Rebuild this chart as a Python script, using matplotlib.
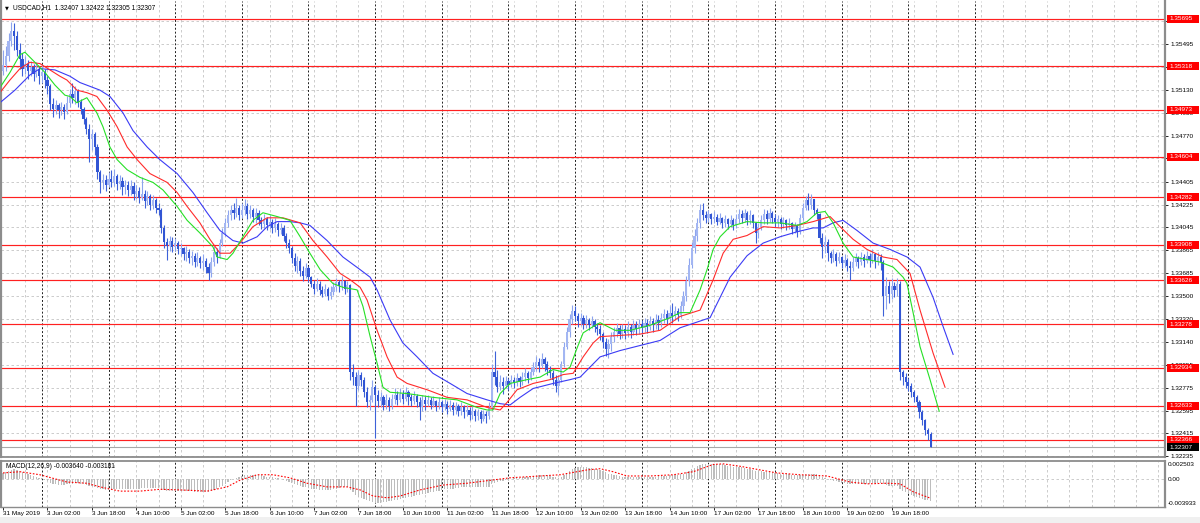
import matplotlib
matplotlib.use("Agg")
import matplotlib.pyplot as plt
import matplotlib.transforms as mtrans
from matplotlib.patches import Rectangle
import numpy as np

plt.rcParams['font.family'] = ['Liberation Sans', 'DejaVu Sans']

# ---------------- data (USDCAD H1, 31 May 10:00 -> 20 Jun 08:00) ----------------
first_open = 1.3528
closes = [
    1.3533, 1.3540, 1.3552, 1.3560, 1.3556, 1.3545, 1.3538, 1.3530, 1.3534, 1.3528,
    1.3531, 1.3526, 1.3530, 1.3524, 1.3527, 1.3521, 1.3516, 1.3502, 1.3498, 1.3501,
    1.3497, 1.3500, 1.3496, 1.3503, 1.3510, 1.3507, 1.3512, 1.3504, 1.3498, 1.3490,
    1.3482, 1.3474, 1.3478, 1.3468, 1.3448, 1.3440, 1.3442, 1.3438, 1.3443, 1.3440,
    1.3445, 1.3439, 1.3441, 1.3436, 1.3438, 1.3434, 1.3437, 1.3431, 1.3433, 1.3428,
    1.3431, 1.3425, 1.3429, 1.3422, 1.3426, 1.3420, 1.3418, 1.3404, 1.3393, 1.3390,
    1.3394, 1.3389, 1.3392, 1.3387, 1.3388, 1.3383, 1.3385, 1.3380, 1.3382, 1.3377,
    1.3380, 1.3376, 1.3378, 1.3373, 1.3368, 1.3377, 1.3385, 1.3381, 1.3392, 1.3400,
    1.3408, 1.3414, 1.3418, 1.3416, 1.3420, 1.3414, 1.3418, 1.3421, 1.3415, 1.3418,
    1.3413, 1.3416, 1.3410, 1.3407, 1.3411, 1.3406, 1.3409, 1.3404, 1.3407, 1.3402,
    1.3404, 1.3398, 1.3392, 1.3388, 1.3380, 1.3374, 1.3378, 1.3370, 1.3366, 1.3372,
    1.3365, 1.3360, 1.3356, 1.3360, 1.3355, 1.3352, 1.3356, 1.3350, 1.3353, 1.3357,
    1.3361, 1.3358, 1.3362, 1.3356, 1.3359, 1.3290, 1.3286, 1.3279, 1.3288, 1.3284,
    1.3274, 1.3266, 1.3268, 1.3278, 1.3272, 1.3267, 1.3270, 1.3264, 1.3268, 1.3263,
    1.3269, 1.3272, 1.3268, 1.3273, 1.3269, 1.3274, 1.3270, 1.3267, 1.3271, 1.3266,
    1.3262, 1.3268, 1.3265, 1.3268, 1.3264, 1.3267, 1.3263, 1.3266, 1.3262, 1.3265,
    1.3261, 1.3264, 1.3260, 1.3263, 1.3259, 1.3262, 1.3258, 1.3260, 1.3256, 1.3259,
    1.3255, 1.3258, 1.3253, 1.3257, 1.3255, 1.3262, 1.3290, 1.3286, 1.3278, 1.3282,
    1.3279, 1.3283, 1.3280, 1.3284, 1.3281, 1.3285, 1.3282, 1.3286, 1.3289, 1.3285,
    1.3290, 1.3294, 1.3298, 1.3295, 1.3300, 1.3296, 1.3292, 1.3289, 1.3284, 1.3279,
    1.3284, 1.3296, 1.3310, 1.3322, 1.3332, 1.3338, 1.3334, 1.3330, 1.3333, 1.3328,
    1.3331, 1.3327, 1.3330, 1.3326, 1.3324, 1.3320, 1.3314, 1.3308, 1.3312, 1.3318,
    1.3322, 1.3325, 1.3320, 1.3324, 1.3321, 1.3326, 1.3322, 1.3327, 1.3324, 1.3328,
    1.3325, 1.3329, 1.3326, 1.3330, 1.3327, 1.3331, 1.3329, 1.3333, 1.3336, 1.3332,
    1.3337, 1.3334, 1.3338, 1.3335, 1.3342, 1.3350, 1.3362, 1.3375, 1.3388, 1.3398,
    1.3408, 1.3418, 1.3414, 1.3412, 1.3415, 1.3411, 1.3413, 1.3409, 1.3412, 1.3408,
    1.3411, 1.3407, 1.3410, 1.3406, 1.3411, 1.3415, 1.3412, 1.3416, 1.3410, 1.3414,
    1.3408, 1.3400, 1.3405, 1.3410, 1.3415, 1.3411, 1.3416, 1.3412, 1.3409, 1.3411,
    1.3407, 1.3410, 1.3406, 1.3408, 1.3403, 1.3406, 1.3401, 1.3412, 1.3420, 1.3426,
    1.3422, 1.3427, 1.3418, 1.3415, 1.3396, 1.3389, 1.3393, 1.3384, 1.3380, 1.3383,
    1.3378, 1.3381, 1.3376, 1.3379, 1.3374, 1.3372, 1.3377, 1.3380, 1.3377, 1.3381,
    1.3378, 1.3382, 1.3379, 1.3383, 1.3378, 1.3381, 1.3377, 1.3350, 1.3358, 1.3352,
    1.3358, 1.3355, 1.3360, 1.3290, 1.3286, 1.3282, 1.3279, 1.3274, 1.3270, 1.3266,
    1.3258, 1.3252, 1.3244, 1.32407, 1.32307,
]
highs = [
    1.3545, 1.3548, 1.3558, 1.3567, 1.3566, 1.3560, 1.3550, 1.3542, 1.3540, 1.3537,
    1.3536, 1.3534, 1.3535, 1.3532, 1.3533, 1.3530, 1.3524, 1.3518, 1.3507, 1.3505,
    1.3503, 1.3504, 1.3502, 1.3508, 1.3514, 1.3519, 1.3516, 1.3514, 1.3506, 1.3500,
    1.3492, 1.3486, 1.3482, 1.3480, 1.3470, 1.3450, 1.3447, 1.3446, 1.3448, 1.3450,
    1.3451, 1.3447, 1.3446, 1.3444, 1.3442, 1.3441, 1.3442, 1.3440, 1.3438, 1.3436,
    1.3444, 1.3434, 1.3433, 1.3431, 1.3430, 1.3428, 1.3424, 1.3420, 1.3406, 1.3396,
    1.3398, 1.3397, 1.3396, 1.3394, 1.3392, 1.3389, 1.3390, 1.3387, 1.3386, 1.3384,
    1.3385, 1.3382, 1.3383, 1.3380, 1.3376, 1.3381, 1.3390, 1.3388, 1.3395, 1.3404,
    1.3412, 1.3418, 1.3422, 1.3424, 1.3428, 1.3422, 1.3424, 1.3427, 1.3424, 1.3422,
    1.3420, 1.3420, 1.3418, 1.3413, 1.3415, 1.3413, 1.3414, 1.3411, 1.3412, 1.3409,
    1.3408, 1.3406, 1.3400, 1.3395, 1.3390, 1.3384, 1.3382, 1.3380, 1.3374, 1.3376,
    1.3374, 1.3366, 1.3363, 1.3364, 1.3362, 1.3358, 1.3360, 1.3357, 1.3358, 1.3361,
    1.3364, 1.3363, 1.3366, 1.3363, 1.3362, 1.3360, 1.3296, 1.3290, 1.3292, 1.3290,
    1.3286, 1.3278, 1.3272, 1.3284, 1.3280, 1.3276, 1.3274, 1.3272, 1.3273, 1.3270,
    1.3273, 1.3277, 1.3275, 1.3277, 1.3276, 1.3278, 1.3276, 1.3273, 1.3275, 1.3273,
    1.3270, 1.3272, 1.3271, 1.3272, 1.3270, 1.3271, 1.3268, 1.3270, 1.3268, 1.3269,
    1.3267, 1.3268, 1.3266, 1.3266, 1.3265, 1.3266, 1.3264, 1.3264, 1.3262, 1.3263,
    1.3261, 1.3261, 1.3260, 1.3260, 1.3259, 1.3266, 1.3296, 1.3307, 1.3292, 1.3288,
    1.3286, 1.3287, 1.3285, 1.3288, 1.3286, 1.3289, 1.3287, 1.3290, 1.3293, 1.3291,
    1.3294, 1.3298, 1.3303, 1.3301, 1.3305, 1.3302, 1.3299, 1.3295, 1.3292, 1.3288,
    1.3288, 1.3299, 1.3314, 1.3326, 1.3336, 1.3343, 1.3342, 1.3337, 1.3337, 1.3335,
    1.3335, 1.3333, 1.3334, 1.3332, 1.3329, 1.3327, 1.3322, 1.3317, 1.3316, 1.3322,
    1.3326, 1.3329, 1.3327, 1.3328, 1.3327, 1.3330, 1.3328, 1.3331, 1.3330, 1.3332,
    1.3331, 1.3333, 1.3332, 1.3334, 1.3333, 1.3336, 1.3335, 1.3337, 1.3340, 1.3339,
    1.3342, 1.3345, 1.3342, 1.3341, 1.3346, 1.3354, 1.3366, 1.3380, 1.3393, 1.3403,
    1.3412, 1.3423, 1.3424, 1.3417, 1.3418, 1.3416, 1.3417, 1.3415, 1.3416, 1.3413,
    1.3414, 1.3412, 1.3414, 1.3412, 1.3415, 1.3419, 1.3418, 1.3419, 1.3417, 1.3418,
    1.3415, 1.3409, 1.3408, 1.3414, 1.3419, 1.3418, 1.3420, 1.3417, 1.3415, 1.3414,
    1.3413, 1.3413, 1.3411, 1.3412, 1.3409, 1.3409, 1.3407, 1.3415, 1.3424, 1.3429,
    1.3432, 1.3431, 1.3427, 1.3420, 1.3416, 1.3400, 1.3398, 1.3395, 1.3386, 1.3387,
    1.3385, 1.3385, 1.3382, 1.3383, 1.3380, 1.3378, 1.3381, 1.3384, 1.3382, 1.3385,
    1.3383, 1.3386, 1.3384, 1.3387, 1.3384, 1.3385, 1.3383, 1.3379, 1.3365, 1.3362,
    1.3364, 1.3361, 1.3364, 1.3362, 1.3292, 1.3289, 1.3285, 1.3281, 1.3276, 1.3272,
    1.3268, 1.3260, 1.3253, 1.3246, 1.32422,
]
lows = [
    1.3525, 1.3528, 1.3536, 1.3548, 1.3545, 1.3540, 1.3530, 1.3524, 1.3526, 1.3522,
    1.3524, 1.3520, 1.3523, 1.3518, 1.3519, 1.3515, 1.3510, 1.3497, 1.3492, 1.3494,
    1.3491, 1.3493, 1.3490, 1.3494, 1.3500, 1.3503, 1.3502, 1.3500, 1.3494, 1.3486,
    1.3478, 1.3456, 1.3466, 1.3462, 1.3443, 1.3432, 1.3435, 1.3433, 1.3436, 1.3436,
    1.3437, 1.3434, 1.3435, 1.3430, 1.3431, 1.3429, 1.3430, 1.3426, 1.3427, 1.3424,
    1.3426, 1.3420, 1.3422, 1.3418, 1.3419, 1.3416, 1.3414, 1.3400, 1.3388, 1.3379,
    1.3386, 1.3385, 1.3386, 1.3383, 1.3382, 1.3379, 1.3378, 1.3376, 1.3375, 1.3373,
    1.3374, 1.3372, 1.3371, 1.3368, 1.3363, 1.3365, 1.3374, 1.3376, 1.3380, 1.3390,
    1.3398, 1.3405, 1.3410, 1.3411, 1.3413, 1.3410, 1.3412, 1.3414, 1.3411, 1.3412,
    1.3409, 1.3408, 1.3406, 1.3403, 1.3404, 1.3402, 1.3403, 1.3400, 1.3401, 1.3398,
    1.3399, 1.3394, 1.3388, 1.3384, 1.3376, 1.3370, 1.3368, 1.3366, 1.3362, 1.3364,
    1.3361, 1.3357, 1.3352, 1.3354, 1.3351, 1.3349, 1.3350, 1.3347, 1.3348, 1.3351,
    1.3354, 1.3353, 1.3355, 1.3352, 1.3353, 1.3284, 1.3280, 1.3263, 1.3276, 1.3279,
    1.3270, 1.3262, 1.3260, 1.3266, 1.3238, 1.3262, 1.3262, 1.3260, 1.3261, 1.3259,
    1.3261, 1.3265, 1.3264, 1.3266, 1.3265, 1.3267, 1.3264, 1.3263, 1.3265, 1.3262,
    1.3252, 1.3259, 1.3260, 1.3263, 1.3261, 1.3262, 1.3259, 1.3261, 1.3258, 1.3260,
    1.3257, 1.3259, 1.3256, 1.3257, 1.3255, 1.3256, 1.3254, 1.3255, 1.3252, 1.3253,
    1.3251, 1.3252, 1.3250, 1.3251, 1.3250, 1.3253, 1.3260, 1.3280, 1.3274, 1.3276,
    1.3273, 1.3277, 1.3276, 1.3278, 1.3277, 1.3279, 1.3278, 1.3280, 1.3283, 1.3281,
    1.3284, 1.3288, 1.3291, 1.3290, 1.3293, 1.3291, 1.3288, 1.3285, 1.3280, 1.3274,
    1.3272, 1.3282, 1.3294, 1.3308, 1.3318, 1.3328, 1.3330, 1.3326, 1.3327, 1.3324,
    1.3325, 1.3323, 1.3325, 1.3322, 1.3319, 1.3315, 1.3309, 1.3303, 1.3301, 1.3307,
    1.3314, 1.3318, 1.3316, 1.3317, 1.3316, 1.3318, 1.3317, 1.3319, 1.3319, 1.3320,
    1.3320, 1.3322, 1.3321, 1.3323, 1.3322, 1.3324, 1.3323, 1.3326, 1.3329, 1.3328,
    1.3330, 1.3329, 1.3331, 1.3330, 1.3333, 1.3338, 1.3346, 1.3358, 1.3372, 1.3384,
    1.3394, 1.3404, 1.3410, 1.3408, 1.3409, 1.3407, 1.3408, 1.3406, 1.3407, 1.3404,
    1.3405, 1.3403, 1.3405, 1.3402, 1.3404, 1.3408, 1.3408, 1.3409, 1.3406, 1.3407,
    1.3404, 1.3392, 1.3396, 1.3402, 1.3407, 1.3407, 1.3409, 1.3408, 1.3405, 1.3405,
    1.3403, 1.3404, 1.3402, 1.3403, 1.3399, 1.3400, 1.3397, 1.3399, 1.3410, 1.3418,
    1.3418, 1.3419, 1.3414, 1.3411, 1.3392, 1.3380, 1.3384, 1.3378, 1.3376, 1.3377,
    1.3374, 1.3376, 1.3372, 1.3373, 1.3370, 1.3363, 1.3370, 1.3374, 1.3372, 1.3375,
    1.3373, 1.3376, 1.3373, 1.3376, 1.3372, 1.3375, 1.3371, 1.3334, 1.3340, 1.3345,
    1.3348, 1.3349, 1.3350, 1.3284, 1.3280, 1.3277, 1.3275, 1.3270, 1.3266, 1.3262,
    1.3254, 1.3248, 1.3240, 1.3236, 1.32305,
]

# Alligator lines (jaw / teeth / lips): bar position, price
jaw_t = [-1.1, 4.3, 9.7, 13.3, 18.7, 24.1, 27.7, 34.9, 38.5, 43.2, 46.8, 51.9, 56.5, 62.7, 68.4,
         73.5, 78.1, 82.8, 86.4, 91.5, 95.1, 98.7, 103.3, 107.0, 110.5, 116.7, 122.4, 128.6,
         132.2, 134.7, 139.4, 144.0, 149.1, 154.8, 161.0, 167.1, 174.3, 179.0, 182.6, 186.2,
         190.9, 198.1, 204.2, 207.8, 211.4, 215.0, 222.2, 229.4, 236.6, 243.8, 254.6, 258.2,
         261.8, 267.9, 273.7, 279.8, 286.0, 291.7, 295.3, 298.9, 302.5, 307.5, 313.3, 319.4,
         325.5, 330.2, 334.9, 338.5, 342.1]
jaw_v = [1.3503, 1.3513, 1.3525, 1.3530, 1.3529, 1.3524, 1.3519, 1.3513, 1.3508, 1.3495, 1.3481,
         1.3468, 1.3458, 1.3447, 1.3432, 1.3416, 1.3402, 1.3394, 1.3392, 1.3397, 1.3405, 1.3409,
         1.3409, 1.3408, 1.3406, 1.3394, 1.3381, 1.3371, 1.3365, 1.3355, 1.3331, 1.3313, 1.3302,
         1.3289, 1.3281, 1.3273, 1.3268, 1.3265, 1.3264, 1.3270, 1.3277, 1.3281, 1.3284, 1.3286,
         1.3294, 1.3302, 1.3307, 1.3311, 1.3315, 1.3325, 1.3333, 1.3349, 1.3365, 1.3382, 1.3392,
         1.3397, 1.3401, 1.3404, 1.3404, 1.3408, 1.3410, 1.3402, 1.3392, 1.3387, 1.3381, 1.3373,
         1.3349, 1.3326, 1.3304]
teeth_t = [-1.1, 2.5, 6.1, 9.7, 13.3, 16.9, 20.5, 23.0, 26.6, 30.2, 33.8, 37.5, 41.1, 44.7, 48.3,
           52.9, 59.1, 62.7, 66.3, 70.9, 74.5, 78.1, 81.8, 85.3, 90.0, 95.1, 100.8, 107.0, 111.6,
           116.7, 121.4, 125.0, 128.6, 131.1, 134.7, 138.3, 141.9, 145.5, 152.7, 159.9, 167.1,
           174.3, 179.0, 181.5, 185.1, 190.9, 197.0, 201.7, 205.3, 208.9, 212.5, 215.0, 222.2,
           229.4, 236.6, 243.8, 251.0, 255.7, 259.3, 262.9, 267.9, 273.7, 279.8, 286.0, 291.7,
           297.8, 301.4, 306.1, 311.1, 316.9, 321.9, 326.6, 330.2, 334.9, 339.2]
teeth_v = [1.3511, 1.3521, 1.3530, 1.3535, 1.3534, 1.3529, 1.3524, 1.3521, 1.3513, 1.3511, 1.3508,
           1.3497, 1.3484, 1.3468, 1.3458, 1.3447, 1.3440, 1.3432, 1.3421, 1.3408, 1.3395, 1.3384,
           1.3384, 1.3392, 1.3405, 1.3412, 1.3412, 1.3408, 1.3394, 1.3381, 1.3368, 1.3363, 1.3357,
           1.3347, 1.3323, 1.3302, 1.3286, 1.3281, 1.3276, 1.3270, 1.3268, 1.3262, 1.3260, 1.3266,
           1.3276, 1.3281, 1.3284, 1.3288, 1.3289, 1.3302, 1.3313, 1.3318, 1.3319, 1.3320, 1.3323,
           1.3334, 1.3339, 1.3363, 1.3384, 1.3395, 1.3398, 1.3405, 1.3404, 1.3406, 1.3409, 1.3413,
           1.3405, 1.3395, 1.3387, 1.3381, 1.3379, 1.3368, 1.3339, 1.3305, 1.3278]
lips_t = [-1.1, 2.5, 6.1, 7.9, 11.5, 15.1, 18.7, 22.3, 24.1, 26.6, 30.2, 33.8, 36.0, 38.5, 41.1,
          44.7, 49.3, 54.0, 57.6, 62.7, 66.3, 70.9, 75.6, 77.1, 80.7, 82.8, 86.4, 90.0, 93.6, 98.7,
          103.3, 107.0, 110.5, 114.2, 118.8, 122.4, 127.5, 129.6, 132.2, 134.7, 136.8, 139.4, 145.5,
          154.8, 163.5, 170.7, 174.3, 176.4, 179.0, 182.6, 188.7, 193.4, 198.1, 201.7, 204.2, 206.7,
          208.9, 212.5, 215.0, 220.4, 225.8, 233.0, 240.2, 243.8, 247.4, 251.0, 253.5, 255.7, 258.2,
          261.8, 267.9, 273.7, 279.8, 286.0, 289.5, 293.1, 296.0, 298.9, 302.5, 306.1, 311.1, 315.8,
          320.5, 324.1, 325.5, 327.7, 330.2, 333.8, 337.1]
lips_v = [1.3515, 1.3527, 1.3541, 1.3543, 1.3535, 1.3527, 1.3517, 1.3509, 1.3508, 1.3503, 1.3507,
          1.3495, 1.3484, 1.3468, 1.3458, 1.3450, 1.3444, 1.3440, 1.3434, 1.3421, 1.3410, 1.3400,
          1.3389, 1.3381, 1.3379, 1.3384, 1.3397, 1.3410, 1.3416, 1.3413, 1.3410, 1.3397, 1.3384,
          1.3371, 1.3360, 1.3357, 1.3355, 1.3342, 1.3318, 1.3297, 1.3278, 1.3274, 1.3273, 1.3270,
          1.3268, 1.3262, 1.3260, 1.3260, 1.3273, 1.3281, 1.3284, 1.3286, 1.3292, 1.3290, 1.3294,
          1.3309, 1.3321, 1.3326, 1.3329, 1.3323, 1.3323, 1.3327, 1.3333, 1.3337, 1.3337, 1.3355,
          1.3371, 1.3387, 1.3397, 1.3405, 1.3409, 1.3408, 1.3408, 1.3406, 1.3409, 1.3416, 1.3417,
          1.3408, 1.3392, 1.3381, 1.3379, 1.3377, 1.3373, 1.3365, 1.3360, 1.3337, 1.3310, 1.3284,
          1.3259]

# MACD(12,26,9) main values per bar, and signal line read at sample positions
macd_main = [
    0.0010, 0.0011, 0.0013, 0.0015, 0.0016, 0.0015, 0.0013,
    0.0011, 0.0010, 0.0008, 0.0007, 0.0005, 0.0004, 0.0002, 0.0001,
    -0.0001, -0.0003, -0.0006, -0.0008, -0.0009, -0.0010, -0.0010, -0.0010, -0.0009, -0.0008,
    -0.0008, -0.0007, -0.0007, -0.0008, -0.0009, -0.0010, -0.0011, -0.0012, -0.0013, -0.0015, -0.0016,
    -0.0017, -0.0018, -0.0018, -0.0018, -0.0017, -0.0017, -0.0017, -0.0017, -0.0017, -0.0016,
    -0.0016, -0.0016, -0.0016, -0.0016, -0.0015, -0.0015, -0.0015, -0.0015, -0.0015, -0.0015,
    -0.0015, -0.0016, -0.0018,
    -0.0019, -0.0020, -0.0020, -0.0020, -0.0020, -0.0020, -0.0020, -0.0020, -0.0020, -0.0020,
    -0.0021, -0.0021, -0.0021, -0.0021, -0.0022, -0.0022, -0.0020, -0.0018, -0.0017,
    -0.0014, -0.0011, -0.0008, -0.0005, -0.0002, 0.0000, 0.0002, 0.0004, 0.0005, 0.0006, 0.0007,
    0.0007, 0.0007,
    0.0007, 0.0006, 0.0006, 0.0005, 0.0004, 0.0004, 0.0003, 0.0002, 0.0001, 0.0000, -0.0001,
    -0.0003, -0.0005, -0.0007, -0.0009, -0.0010, -0.0012,
    -0.0013, -0.0014, -0.0015, -0.0016, -0.0017, -0.0017, -0.0018, -0.0018, -0.0018, -0.0018,
    -0.0018, -0.0017, -0.0016, -0.0015, -0.0014, -0.0014, -0.0013,
    -0.0018, -0.0022, -0.0026, -0.0029, -0.0031, -0.0033, -0.0035, -0.0037, -0.0038, -0.0039,
    -0.0039, -0.0039, -0.0038, -0.0038, -0.0037, -0.0036, -0.0035, -0.0034, -0.0033,
    -0.0032, -0.0031, -0.0030, -0.0029, -0.0028, -0.0027, -0.0026, -0.0025, -0.0024, -0.0023,
    -0.0022, -0.0021, -0.0020, -0.0019, -0.0018, -0.0017,
    -0.0017, -0.0016, -0.0016, -0.0015, -0.0015, -0.0014, -0.0014, -0.0014, -0.0014, -0.0014,
    -0.0014, -0.0014, -0.0014, -0.0014, -0.0014, -0.0013, -0.0009, -0.0006, -0.0005, -0.0004,
    -0.0003, -0.0002, -0.0001,
    0.0000, 0.0001, 0.0002, 0.0002, 0.0003, 0.0003, 0.0004, 0.0004, 0.0005, 0.0006, 0.0007,
    0.0007, 0.0007, 0.0006, 0.0005, 0.0004, 0.0003, 0.0002,
    0.0004, 0.0007, 0.0010, 0.0013, 0.0016, 0.0018, 0.0019, 0.0019, 0.0019, 0.0019, 0.0018,
    0.0018, 0.0017, 0.0016, 0.0015, 0.0013, 0.0011, 0.0009,
    0.0008, 0.0007, 0.0006, 0.0005, 0.0004, 0.0004, 0.0003, 0.0003, 0.0003, 0.0003, 0.0003,
    0.0003, 0.0003, 0.0004, 0.0004, 0.0004, 0.0004, 0.0005, 0.0005, 0.0005, 0.0005,
    0.0006, 0.0006, 0.0007, 0.0007, 0.0008, 0.0009, 0.0011, 0.0013, 0.0016, 0.0018, 0.0021, 0.0023,
    0.0024, 0.0025, 0.0025, 0.0025, 0.0025, 0.0025, 0.0024, 0.0024, 0.0023, 0.0022, 0.0021, 0.0020,
    0.0020, 0.0019, 0.0019, 0.0018, 0.0017, 0.0016, 0.0015, 0.0014, 0.0013, 0.0013, 0.0012,
    0.0012, 0.0011, 0.0011, 0.0010, 0.0010, 0.0009, 0.0009, 0.0008, 0.0008, 0.0007, 0.0007,
    0.0006, 0.0006,
    0.0007, 0.0008, 0.0009, 0.0009, 0.0009, 0.0008, 0.0006, 0.0004, 0.0002, 0.0000, -0.0002, -0.0003,
    -0.0004, -0.0005, -0.0006, -0.0007, -0.0008, -0.0008, -0.0008, -0.0008, -0.0008, -0.0008,
    -0.0008, -0.0008, -0.0008, -0.0007, -0.0007, -0.0007, -0.0007, -0.0009, -0.0010, -0.0011,
    -0.0011, -0.0011, -0.0011,
    -0.0016, -0.0019, -0.0022, -0.0024, -0.0026, -0.0028, -0.0029, -0.0031, -0.0033, -0.0034,
    -0.0035, -0.003640,
]
signal_t = [0, 6.1, 13.3, 23.0, 30.2, 34.9, 42.1, 49.3, 56.5, 63.7, 73.5, 80.7, 85.3, 91.5, 97.2,
            103.3, 109.5, 116.7, 123.9, 128.6, 133.2, 138.3, 143.0, 150.2, 158.4, 167.1, 182.6,
            200.6, 210.3, 215.0, 219.7, 224.7, 233.0, 241.3, 248.5, 255.7, 259.3, 265.4, 272.6,
            278.7, 287.0, 296.7, 305.0, 311.1, 318.3, 323.0, 327.7, 334.0]
signal_v = [0.0010, 0.0012, 0.0007, -0.0005, -0.0007, -0.0013, -0.0020, -0.0020, -0.0017, -0.0018,
            -0.0020, -0.0013, -0.0002, 0.0007, 0.0007, 0.0002, -0.0007, -0.0013, -0.0013, -0.0018,
            -0.0028, -0.0031, -0.0028, -0.0018, -0.0010, -0.0007, 0.0002, 0.0007, 0.0015, 0.0017,
            0.0012, 0.0005, 0.0005, 0.0007, 0.0012, 0.0024, 0.0025, 0.0021, 0.0015, 0.0010, 0.0007,
            0.0005, -0.0005, -0.0008, -0.0007, -0.0008, -0.0021, -0.003181]

# Horizontal levels, price axis ticks, time labels
levels = [1.35695, 1.35318, 1.34973, 1.34604, 1.34282, 1.33908, 1.33626, 1.33278,
          1.32934, 1.32633, 1.32366]
last_price = 1.32307
price_ticks = [1.35675, 1.35495, 1.35315, 1.35130, 1.34950, 1.34770, 1.34590, 1.34405,
               1.34225, 1.34045, 1.33865, 1.33685, 1.33500, 1.33320, 1.33140, 1.32955,
               1.32775, 1.32595, 1.32415, 1.32235]
macd_ticks = [0.002503, 0.0, -0.003933]
macd_tick_labels = ["0.002503", "0.00", "-0.003933"]
time_labels = ["31 May 2019", "3 Jun 02:00", "3 Jun 18:00", "4 Jun 10:00", "5 Jun 02:00",
               "5 Jun 18:00", "6 Jun 10:00", "7 Jun 02:00", "7 Jun 18:00", "10 Jun 10:00",
               "11 Jun 02:00", "11 Jun 18:00", "12 Jun 10:00", "13 Jun 02:00", "13 Jun 18:00",
               "14 Jun 10:00", "17 Jun 02:00", "17 Jun 18:00", "18 Jun 10:00", "19 Jun 02:00",
               "19 Jun 18:00"]
title_text = "USDCAD,H1  1.32407 1.32422 1.32305 1.32307"
macd_text = "MACD(12,26,9) -0.003640 -0.003181"

# ---------------- figure / layout ----------------
W, H = 1200, 523
fig = plt.figure(figsize=(W / 100, H / 100), dpi=100)
fig.patch.set_facecolor("white")


def box(l, t, r, b):
    return [l / W, 1 - b / H, (r - l) / W, (b - t) / H]


ax = fig.add_axes(box(1, 1, 1165, 457))
axm = fig.add_axes(box(1, 461, 1165, 507))
fig.patches.append(Rectangle((0, 0), 1, 6 / H, transform=fig.transFigure,
                             facecolor="#f0f0f0", edgecolor="none", zorder=0))

X_LO, X_HI = -0.72, 418.4
FS = 4.6
GRID_C = "#c4c4c4"
SEP_C = "#202020"
for a in (ax, axm):
    a.set_xlim(X_LO, X_HI)
    a.set_facecolor("white")
    for s in a.spines.values():
        s.set_color("#8c8c8c")
    a.spines["left"].set_linewidth(1.6)
    a.spines["right"].set_linewidth(1.6)
    for gx in range(8, 420, 8):
        a.axvline(gx, color=GRID_C, lw=0.6, dashes=(3, 3), zorder=0.5)
    for dx in range(14, 351, 24):
        a.axvline(dx, color=SEP_C, lw=0.7, dashes=(2, 2), zorder=0.6)

ax.set_ylim(1.32228, 1.35835)
ax.spines["top"].set_visible(False)
ax.spines["bottom"].set_linewidth(1.3)
axm.spines["top"].set_linewidth(1.3)
axm.spines["bottom"].set_linewidth(1.0)
axm.set_ylim(-0.00462, 0.00297)

for pt in price_ticks:
    ax.axhline(pt, color=GRID_C, lw=0.6, dashes=(3, 3), zorder=0.5)
axm.axhline(0.0, color=GRID_C, lw=0.6, dashes=(3, 3), zorder=0.5)

# support / resistance levels
for lv in levels:
    ax.axhline(lv, color="#ff2020", lw=0.85, zorder=1.5)
ax.axhline(last_price, color="#a8a8a8", lw=0.8, zorder=1.5)

# candles
c = np.array(closes)
h = np.array(highs)
lo = np.array(lows)
o = np.array([first_open] + closes[:-1])
n = len(c)
idx = np.arange(n)
up = c >= o
top = np.maximum(h, np.maximum(o, c))
bot = np.minimum(lo, np.minimum(o, c))
ax.vlines(idx[up], bot[up], top[up], color="#8da4ee", lw=0.8, zorder=3)
ax.vlines(idx[~up], bot[~up], top[~up], color="#3d61d8", lw=0.8, zorder=3)
body_lo = np.minimum(o, c)
body_h = np.maximum(np.abs(c - o), 0.00009)
ax.bar(idx[up], body_h[up], bottom=body_lo[up], width=0.78, color="#a3b6f2", linewidth=0, zorder=3.1)
ax.bar(idx[~up], body_h[~up], bottom=body_lo[~up], width=0.78, color="#3155d4", linewidth=0, zorder=3.1)

# alligator
ax.plot(jaw_t, jaw_v, color="#3b3bf5", lw=0.8, zorder=4)
ax.plot(teeth_t, teeth_v, color="#ff2b2b", lw=0.8, zorder=4)
ax.plot(lips_t, lips_v, color="#25e025", lw=0.8, zorder=4)

# price axis on the right
ax.yaxis.tick_right()
ax.set_yticks(price_ticks)
ax.set_yticklabels([f"{t:.5f}" for t in price_ticks], fontsize=FS)
ax.tick_params(axis="y", length=2.2, width=0.6, pad=1.5, colors="black")
ax.tick_params(axis="x", bottom=False, labelbottom=False)

tr = mtrans.blended_transform_factory(ax.transAxes, ax.transData)
bx0 = (1167 - 1) / 1164
bw = (1199 - 1167) / 1164
hh = 0.00031
for lv in levels:
    ax.add_patch(Rectangle((bx0, lv - hh), bw, 2 * hh, transform=tr, clip_on=False,
                           facecolor="#ff0000", edgecolor="none", zorder=6))
    ax.text(bx0 + 2 / 1164, lv, f"{lv:.5f}", transform=tr, color="white", fontsize=FS,
            va="center", ha="left", zorder=7, clip_on=False)
ax.add_patch(Rectangle((bx0, last_price - hh), bw, 2 * hh, transform=tr, clip_on=False,
                       facecolor="#000000", edgecolor="none", zorder=6))
ax.text(bx0 + 2 / 1164, last_price, f"{last_price:.5f}", transform=tr, color="white",
        fontsize=FS, va="center", ha="left", zorder=7, clip_on=False)

# MACD
axm.bar(np.arange(len(macd_main)), macd_main, width=0.45, color="#bdbdbd", linewidth=0, zorder=2)
axm.plot(signal_t, signal_v, color="#ff0000", lw=0.8, dashes=(1.5, 1.5), zorder=3)
axm.yaxis.tick_right()
axm.set_yticks(macd_ticks)
axm.set_yticklabels(macd_tick_labels, fontsize=FS)
axm.tick_params(axis="y", length=0, pad=2, colors="black")
axm.set_xticks(list(range(0, 16 * len(time_labels), 16)))
axm.set_xticklabels(time_labels, fontsize=FS, ha="left")
axm.tick_params(axis="x", length=2.5, width=0.6, pad=0.6, colors="black")

# titles
fig.text(5 / W, 1 - 7.5 / H, "\u25BC", fontsize=3.6, va="center", ha="left",
         family=["DejaVu Sans"])
fig.text(13 / W, 1 - 7.5 / H, title_text, fontsize=4.8, va="center", ha="left")
fig.text(6 / W, 1 - 466 / H, macd_text, fontsize=4.8, va="center", ha="left")

fig.savefig("out.png", dpi=100, facecolor="white")
